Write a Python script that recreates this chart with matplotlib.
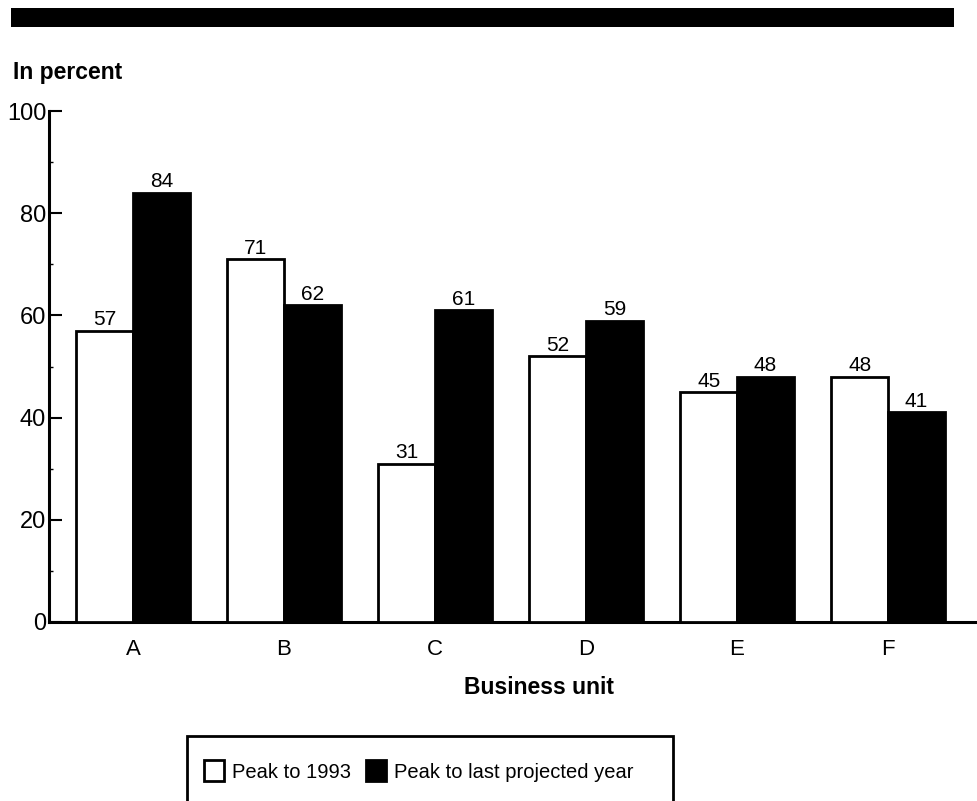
import matplotlib
matplotlib.use("Agg")
import matplotlib.pyplot as plt
from matplotlib.patches import Rectangle
import numpy as np

plt.rcParams['font.family'] = ['Liberation Sans', 'DejaVu Sans']

units = ["A", "B", "C", "D", "E", "F"]
peak_to_1993 = [57, 71, 31, 52, 45, 48]
peak_to_last = [84, 62, 61, 59, 48, 41]
series_names = ["Peak to 1993", "Peak to last projected year"]
y_ticks = [0, 20, 40, 60, 80, 100]

W, H = 977, 801
fig = plt.figure(figsize=(W / 100, H / 100), dpi=100)
fig.patch.set_facecolor("white")

# top black band
fig.add_artist(Rectangle((11 / W, 1 - 27 / H), (954 - 11) / W, 19 / H,
                         transform=fig.transFigure, facecolor="black",
                         edgecolor="none"))

ax = fig.add_axes([49 / W, 1 - 622 / H, (975 - 49) / W, (622 - 111) / H])

x = np.arange(len(units))
w = 0.375
b1 = ax.bar(x - w / 2, peak_to_1993, w, facecolor="white", edgecolor="black",
            linewidth=2, label=series_names[0], zorder=3)
b2 = ax.bar(x + w / 2, peak_to_last, w, facecolor="black", edgecolor="black",
            linewidth=2, label=series_names[1], zorder=3)
ax.bar_label(b1, padding=1, fontsize=15)
ax.bar_label(b2, padding=1, fontsize=15)

ax.set_xlim(-0.556, 5.576)
ax.set_ylim(0, 100)
ax.set_xticks(x)
ax.set_xticklabels(units, fontsize=16)
ax.set_yticks(y_ticks)
ax.set_yticklabels([str(v) for v in y_ticks], fontsize=17)
ax.set_yticks(np.arange(10, 100, 20), minor=True)
ax.tick_params(axis="x", length=0, pad=12)
ax.tick_params(axis="y", which="major", direction="in", length=9, width=1.5, pad=2)
ax.tick_params(axis="y", which="minor", direction="in", length=3, width=1)

for s in ["top", "right"]:
    ax.spines[s].set_visible(False)
for s in ["left", "bottom"]:
    ax.spines[s].set_linewidth(2.2)

fig.text(13 / W, 1 - 73 / H, "In percent", fontsize=16.5, fontweight="bold",
         ha="left", va="center")
fig.text(539 / W, 1 - 687 / H, "Business unit", fontsize=16.5, fontweight="bold",
         ha="center", va="center")

# legend box (cut off at bottom)
fig.add_artist(Rectangle((187 / W, -0.05), (673 - 187) / W, 0.05 + 1 - 736 / H,
                         transform=fig.transFigure, facecolor="none",
                         edgecolor="black", linewidth=2))
leg = fig.legend(handles=[b1, b2], labels=series_names, loc="center left",
                 bbox_to_anchor=(204 / W, 1 - 771 / H), ncol=2, frameon=False,
                 fontsize=14.5, handlelength=1.0, handleheight=1.2,
                 handletextpad=0.4, columnspacing=0.75, borderpad=0,
                 borderaxespad=0)

fig.savefig("out.png", dpi=100)
